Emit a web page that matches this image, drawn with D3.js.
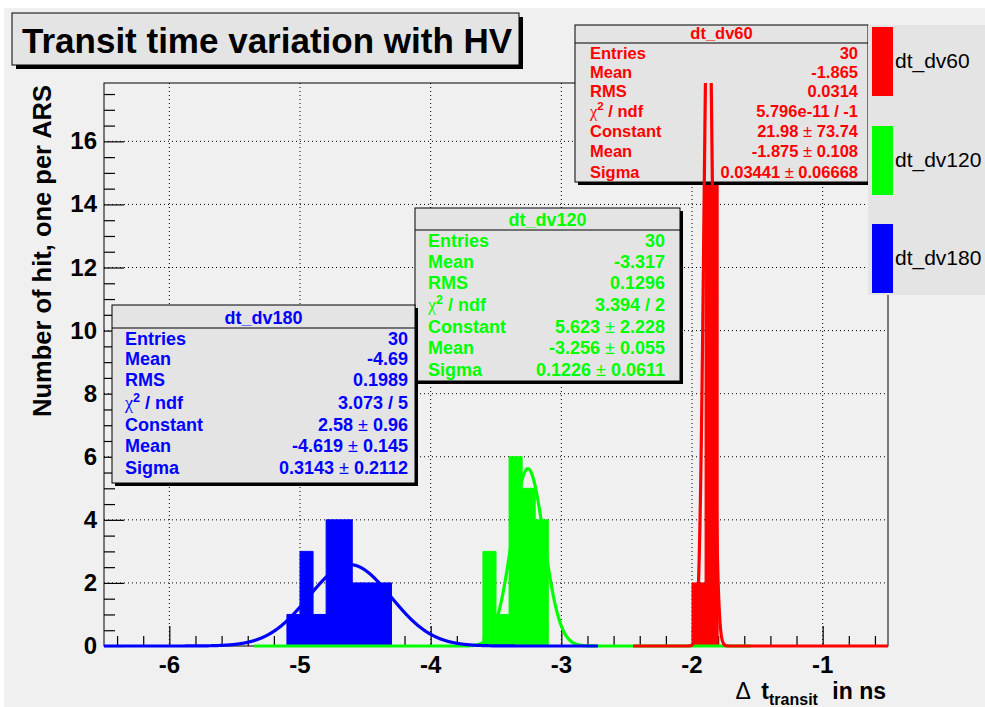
<!DOCTYPE html>
<html><head><meta charset="utf-8">
<script src="https://cdn.jsdelivr.net/npm/d3@7"></script>
<style>
body{margin:0;background:#fff;}
svg{display:block;font-family:"Liberation Sans",Arial,Helvetica,sans-serif;}
</style>
</head><body><svg id="c" width="985" height="707"></svg>
<script>
// ---------------- data ----------------
const seriesNames = ["dt_dv180", "dt_dv120", "dt_dv60"];
const seriesColors = ["#0000ff", "#00ff00", "#ff0000"];
const binWidth = 0.1;
const edges180 = [-5.1, -5.0, -4.9, -4.8, -4.7, -4.6, -4.5, -4.4];
const counts180 = [1, 3, 1, 4, 4, 2, 2, 2];
const edges120 = [-3.6, -3.5, -3.4, -3.3, -3.2];
const counts120 = [3, 1, 6, 5, 4];
const edges60 = [-2.0, -1.9];
const counts60 = [2, 17];
// gaussian fit parameters (constant, mean, sigma) and drawn range
const fitConst = [2.58, 5.623, 21.98];
const fitMean = [-4.619, -3.256, -1.875];
const fitSigma = [0.3143, 0.1226, 0.03441];
const fitFrom = [-6.5, -5.35, -2.45];
const fitTo = [-2.72, -1.55, -0.5];
const xTicks = [-6, -5, -4, -3, -2, -1];
const yTicks = [0, 2, 4, 6, 8, 10, 12, 14, 16];
const xDomain = [-6.5, -0.5];
const yDomain = [0, 17.85];
const statLabels = ["Entries", "Mean", "RMS", "CHI", "Constant", "Mean", "Sigma"];
const stats180 = ["30", "-4.69", "0.1989", "3.073 / 5", "2.58 ± 0.96", "-4.619 ± 0.145", "0.3143 ± 0.2112"];
const stats120 = ["30", "-3.317", "0.1296", "3.394 / 2", "5.623 ± 2.228", "-3.256 ± 0.055", "0.1226 ± 0.0611"];
const stats60 = ["30", "-1.865", "0.0314", "5.796e-11 / -1", "21.98 ± 73.74", "-1.875 ± 0.108", "0.03441 ± 0.06668"];
const titleText = "Transit time variation with HV";
const yTitle = "Number of hit, one per ARS";

// ---------------- layout ----------------
const svg = d3.select("#c");
const F = {l: 104, r: 888, t: 83, b: 646};
const x = d3.scaleLinear().domain(xDomain).range([F.l, F.r]);
const y = d3.scaleLinear().domain(yDomain).range([F.b, F.t]);
const padBg = "#f0f0f0", boxBg = "#e4e4e4";

svg.append("rect").attr("x", 4).attr("y", 8).attr("width", 981).attr("height", 699).attr("fill", padBg);

const defs = svg.append("defs");
defs.append("clipPath").attr("id", "frameClip").append("rect")
  .attr("x", F.l).attr("y", F.t).attr("width", F.r - F.l).attr("height", F.b - F.t);
defs.append("clipPath").attr("id", "curveClip").append("rect")
  .attr("x", F.l).attr("y", F.t).attr("width", F.r - F.l).attr("height", F.b - F.t + 4);

// grid
const grid = svg.append("g").attr("stroke", "#000").attr("stroke-width", 1).attr("stroke-dasharray", "1,3");
xTicks.forEach(t => grid.append("line").attr("x1", x(t)).attr("x2", x(t)).attr("y1", F.t).attr("y2", F.b));
yTicks.filter(t => t > 0).forEach(t => grid.append("line").attr("x1", F.l).attr("x2", F.r).attr("y1", y(t)).attr("y2", y(t)));

// frame
svg.append("rect").attr("x", F.l).attr("y", F.t).attr("width", F.r - F.l).attr("height", F.b - F.t)
  .attr("fill", "none").attr("stroke", "#000").attr("stroke-width", 1);

// axes ticks
const axisG = svg.append("g");
const yAx = d3.axisLeft(y).tickValues(d3.range(0, 17.51, 0.5)).tickSize(-11).tickFormat("");
const yAxG = axisG.append("g").attr("transform", `translate(${F.l},0)`).call(yAx);
yAxG.select(".domain").remove();
yAxG.selectAll(".tick line").attr("x2", d => (Math.abs(d % 2) < 1e-9 ? 20 : 11)).attr("stroke-width", 1.2);
const xAx = d3.axisBottom(x).tickValues(d3.range(-6.4, -0.55, 0.2)).tickSize(-10).tickFormat("");
const xAxG = axisG.append("g").attr("transform", `translate(0,${F.b})`).call(xAx);
xAxG.select(".domain").remove();
xAxG.selectAll(".tick line").attr("y2", d => (Math.abs(d - Math.round(d)) < 1e-6 ? -20 : -10)).attr("stroke-width", 1.2);

// tick labels
const lab = svg.append("g").attr("font-weight", "bold").attr("font-size", 24).attr("fill", "#000");
yTicks.forEach(t => lab.append("text").attr("x", 97).attr("y", y(t) + 8).attr("text-anchor", "end").text(t));
xTicks.forEach(t => lab.append("text").attr("x", x(t)).attr("y", 673).attr("text-anchor", "middle").text(t));

// histograms
function histPath(edges, counts) {
  const pts = [[x(edges[0]), y(0)]];
  edges.forEach((e, i) => { pts.push([x(e), y(counts[i])]); pts.push([x(e + binWidth), y(counts[i])]); });
  pts.push([x(edges[edges.length - 1] + binWidth), y(0)]);
  return d3.line()(pts) + "Z";
}
const hg = svg.append("g").attr("clip-path", "url(#frameClip)");
const histData = [[edges180, counts180], [edges120, counts120], [edges60, counts60]];
histData.forEach((h, i) => hg.append("path").attr("d", histPath(h[0], h[1]))
  .attr("fill", seriesColors[i]).attr("stroke", seriesColors[i]).attr("stroke-width", 1));

// fit curves
function fitPath(i) {
  const xs = d3.range(fitFrom[i], fitTo[i] + 1e-9, 0.0025);
  return d3.line().x(v => x(v)).y(v => y(fitConst[i] * Math.exp(-0.5 * Math.pow((v - fitMean[i]) / fitSigma[i], 2))))(xs);
}
const cg = svg.append("g").attr("clip-path", "url(#curveClip)");
[1, 0].forEach(i => {
  cg.append("path").attr("d", fitPath(i)).attr("fill", "none").attr("stroke", seriesColors[i]).attr("stroke-width", 3.2);
});

// stat boxes
function statBox(cfg) {
  const g = svg.append("g");
  g.append("rect").attr("x", cfg.x + 3).attr("y", cfg.y + 3).attr("width", cfg.w).attr("height", cfg.h).attr("fill", "#000");
  g.append("rect").attr("x", cfg.x).attr("y", cfg.y).attr("width", cfg.w).attr("height", cfg.h)
    .attr("fill", boxBg).attr("stroke", "#000").attr("stroke-width", 1);
  g.append("line").attr("x1", cfg.x).attr("x2", cfg.x + cfg.w).attr("y1", cfg.hl).attr("y2", cfg.hl).attr("stroke", "#000");
  g.append("text").attr("x", cfg.x + cfg.w / 2).attr("y", cfg.hy + cfg.fs * 0.36).attr("text-anchor", "middle")
    .attr("font-weight", "bold").attr("font-size", cfg.fs).attr("fill", cfg.color).text(cfg.name);
  cfg.labels.forEach((l, k) => {
    const ty = cfg.rows[k] + cfg.fs * 0.36;
    const t = g.append("text").attr("x", cfg.lx).attr("y", ty).attr("font-weight", "bold").attr("font-size", cfg.fs).attr("fill", cfg.color);
    if (l === "CHI") {
      t.append("tspan").attr("font-family", "'Liberation Serif','DejaVu Serif',serif").attr("font-weight", "normal").text("χ");
      t.append("tspan").attr("font-size", cfg.fs * 0.7).attr("dy", -cfg.fs * 0.4).text("2");
      t.append("tspan").attr("dy", cfg.fs * 0.4).text(" / ndf");
    } else t.text(l);
    const v = g.append("text").attr("x", cfg.vx).attr("y", ty).attr("text-anchor", "end").attr("font-weight", "bold")
      .attr("font-size", cfg.fs).attr("fill", cfg.color);
    const parts = cfg.values[k].split("±");
    if (parts.length === 2) {
      v.append("tspan").text(parts[0]);
      v.append("tspan").attr("font-weight", "normal").text("±");
      v.append("tspan").text(" " + parts[1].trim());
    } else v.text(cfg.values[k]);
  });
}
statBox({name: seriesNames[2], color: seriesColors[2], x: 575, y: 25, w: 293, h: 157, hl: 43, hy: 33, fs: 16.5,
  lx: 590, vx: 858, rows: [53, 72, 91, 111, 131, 151, 172], labels: statLabels, values: stats60});
statBox({name: seriesNames[1], color: seriesColors[1], x: 415, y: 208, w: 265, h: 173, hl: 230, hy: 220, fs: 18,
  lx: 428, vx: 665, rows: [241, 262, 283, 305, 327, 348, 370], labels: statLabels, values: stats120});
statBox({name: seriesNames[0], color: seriesColors[0], x: 112, y: 305, w: 303, h: 178, hl: 328, hy: 318, fs: 18,
  lx: 125, vx: 408, rows: [339, 359, 380, 403, 425, 446, 468], labels: statLabels, values: stats180});

// red fit curve drawn on top
cg.raise();
cg.append("path").attr("d", fitPath(2)).attr("fill", "none").attr("stroke", seriesColors[2]).attr("stroke-width", 3.2);

// legend
const lg = svg.append("g");
lg.append("rect").attr("x", 868).attr("y", 25).attr("width", 117).attr("height", 270).attr("fill", boxBg);
const legY = [27, 126, 224];
[2, 1, 0].forEach((i, k) => {
  lg.append("rect").attr("x", 872).attr("y", legY[k]).attr("width", 21).attr("height", 69).attr("fill", seriesColors[i]);
  lg.append("text").attr("x", 895).attr("y", legY[k] + 34 + 7).attr("font-size", 21).attr("fill", "#000").text(seriesNames[i]);
});

// title box
const tg = svg.append("g");
tg.append("rect").attr("x", 16).attr("y", 17).attr("width", 507).attr("height", 52).attr("fill", "#000");
tg.append("rect").attr("x", 12).attr("y", 13).attr("width", 507).attr("height", 52).attr("fill", boxBg).attr("stroke", "#000");
tg.append("text").attr("x", 22).attr("y", 53).attr("font-weight", "bold").attr("font-size", 35).attr("fill", "#000").text(titleText);

// axis titles
svg.append("text").attr("transform", `translate(51,${F.t + 2}) rotate(-90)`).attr("text-anchor", "end")
  .attr("font-weight", "bold").attr("font-size", 25.5).text(yTitle);
const xt = svg.append("text").attr("x", 886).attr("y", 699).attr("text-anchor", "end").attr("font-weight", "bold").attr("font-size", 23);
xt.append("tspan").attr("font-weight", "normal").text("Δ");
xt.append("tspan").attr("dx", 4).text(" t");
xt.append("tspan").attr("font-size", 16).attr("dy", 6).text("transit");
xt.append("tspan").attr("dy", -6).attr("dx", 8).text(" in ns");
</script>
</body></html>
